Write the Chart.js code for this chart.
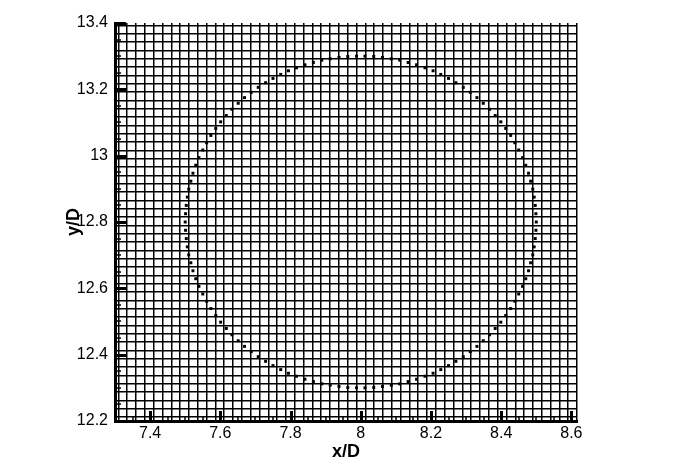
<!DOCTYPE html>
<html>
<head>
<meta charset="utf-8">
<script src="https://cdn.jsdelivr.net/npm/chart.js@4.4.1/dist/chart.umd.min.js"></script>
<style>
  html, body { margin: 0; padding: 0; background: #fff; }
</style>
</head>
<body>
<canvas id="meshChart" width="697" height="471"></canvas>
<script>
// marker points, going round anticlockwise from the right
const xD = [
  8.500, 8.499, 8.497, 8.494, 8.490, 8.484, 8.478, 8.470, 8.461, 8.450, 8.439, 8.427, 8.413, 8.399, 8.383, 8.367,
  8.349, 8.331, 8.312, 8.292, 8.271, 8.250, 8.228, 8.206, 8.183, 8.159, 8.135, 8.111, 8.087, 8.062, 8.037, 8.012,
  7.988, 7.963, 7.938, 7.913, 7.889, 7.865, 7.841, 7.817, 7.794, 7.772, 7.750, 7.729, 7.708, 7.688, 7.669, 7.651,
  7.633, 7.617, 7.601, 7.587, 7.573, 7.561, 7.550, 7.539, 7.530, 7.522, 7.516, 7.510, 7.506, 7.503, 7.501, 7.500,
  7.501, 7.503, 7.506, 7.510, 7.516, 7.522, 7.530, 7.539, 7.550, 7.561, 7.573, 7.587, 7.601, 7.617, 7.633, 7.651,
  7.669, 7.688, 7.708, 7.729, 7.750, 7.772, 7.794, 7.817, 7.841, 7.865, 7.889, 7.913, 7.938, 7.963, 7.988,
  8.012, 8.037, 8.062, 8.087, 8.111, 8.135, 8.159, 8.183, 8.206, 8.228, 8.250, 8.271, 8.292, 8.312, 8.331, 8.349,
  8.367, 8.383, 8.399, 8.413, 8.427, 8.439, 8.450, 8.461, 8.470, 8.478, 8.484, 8.490, 8.494, 8.497, 8.499
];
const yD = [
  12.800, 12.825, 12.850, 12.875, 12.899, 12.923, 12.947, 12.971, 12.994, 13.017, 13.039, 13.061, 13.082, 13.102, 13.121, 13.140,
  13.158, 13.175, 13.191, 13.206, 13.220, 13.233, 13.245, 13.256, 13.265, 13.274, 13.281, 13.288, 13.292, 13.296, 13.299, 13.300,
  13.300, 13.299, 13.296, 13.292, 13.288, 13.281, 13.274, 13.265, 13.256, 13.245, 13.233, 13.220, 13.206, 13.191, 13.175, 13.158,
  13.140, 13.121, 13.102, 13.082, 13.061, 13.039, 13.017, 12.994, 12.971, 12.947, 12.923, 12.899, 12.875, 12.850, 12.825, 12.800,
  12.775, 12.750, 12.725, 12.701, 12.677, 12.653, 12.629, 12.606, 12.583, 12.561, 12.539, 12.518, 12.498, 12.479, 12.460, 12.442,
  12.425, 12.409, 12.394, 12.380, 12.367, 12.355, 12.344, 12.335, 12.326, 12.319, 12.312, 12.308, 12.304, 12.301, 12.300,
  12.300, 12.301, 12.304, 12.308, 12.312, 12.319, 12.326, 12.335, 12.344, 12.355, 12.367, 12.380, 12.394, 12.409, 12.425, 12.442,
  12.460, 12.479, 12.498, 12.518, 12.539, 12.561, 12.583, 12.606, 12.629, 12.653, 12.677, 12.701, 12.725, 12.750, 12.775
];

const xTicks = [7.4, 7.6, 7.8, 8, 8.2, 8.4, 8.6];
const xTickLabels = ['7.4', '7.6', '7.8', '8', '8.2', '8.4', '8.6'];
const yTicks = [12.2, 12.4, 12.6, 12.8, 13, 13.2, 13.4];
const yTickLabels = ['12.2', '12.4', '12.6', '12.8', '13', '13.2', '13.4'];

const xMin = 7.3, xMax = 8.616;
const yMin = 12.2, yMax = 13.4;
const cell = 0.025125; // mesh spacing seen in the background grid

const font = { family: "'Liberation Sans', Arial, sans-serif", size: 16 };
const titleFont = { family: "'Liberation Sans', Arial, sans-serif", size: 18, weight: 'bold' };

// mesh lines: x lines counted back from the right edge, y lines up from the first row
function meshLines(start, step, stop) {
  const out = [];
  if (step > 0) {
    for (let v = start; v <= stop + 1e-9; v += step) out.push({ value: v });
  } else {
    for (let v = start; v >= stop - 1e-9; v += step) out.push({ value: v });
  }
  return out;
}

// inward major / minor tick marks on the two axes
const tickMarks = {
  id: 'tickMarks',
  afterDatasetsDraw(chart) {
    const { ctx, chartArea, scales } = chart;
    ctx.save();
    ctx.strokeStyle = '#000';
    for (let k = 147; k <= 172; k++) {
      const major = k % 4 === 0;
      const px = Math.round(scales.x.getPixelForValue(k * 0.05)) + (major ? 0.5 : 0);
      ctx.lineWidth = major ? 3 : 1.5;
      ctx.beginPath();
      ctx.moveTo(px, chartArea.bottom);
      ctx.lineTo(px, chartArea.bottom - (major ? 10 : 5));
      ctx.stroke();
    }
    for (let k = 245; k <= 268; k++) {
      const major = (k - 244) % 4 === 0;
      const py = Math.round(scales.y.getPixelForValue(k * 0.05)) + (major ? 0.5 : 0);
      ctx.lineWidth = major ? 3 : 1.5;
      ctx.beginPath();
      ctx.moveTo(chartArea.left, py);
      ctx.lineTo(chartArea.left + (major ? 11 : 6), py);
      ctx.stroke();
    }
    ctx.restore();
  }
};

const meshChart = new Chart(document.getElementById('meshChart').getContext('2d'), {
  type: 'scatter',
  data: {
    datasets: [{
      data: xD.map((x, i) => ({ x: x, y: yD[i] })),
      pointStyle: 'rect',
      pointRadius: 2.1,
      pointBackgroundColor: '#000',
      pointBorderWidth: 0,
      showLine: false
    }]
  },
  options: {
    responsive: false,
    animation: false,
    devicePixelRatio: 1,
    layout: { autoPadding: false, padding: { top: 23, right: 120, bottom: 0, left: 0 } },
    plugins: { legend: { display: false }, tooltip: { enabled: false } },
    scales: {
      x: {
        type: 'linear', position: 'bottom', min: xMin, max: xMax,
        afterBuildTicks: (scale) => { scale.ticks = xTicks.map(v => ({ value: v })); },
        afterFit: (scale) => { scale.height = 50; },
        grid: { display: false, drawTicks: false },
        border: { display: true, color: '#000', width: 3 },
        ticks: { font: font, color: '#000', padding: 3, autoSkip: false, maxRotation: 0,
          callback: (v, i) => xTickLabels[i] },
        title: { display: true, text: 'x/D', font: titleFont, color: '#000', padding: { bottom: 8 } }
      },
      y: {
        type: 'linear', position: 'left', min: yMin, max: yMax,
        afterBuildTicks: (scale) => { scale.ticks = yTicks.map(v => ({ value: v })); },
        afterFit: (scale) => { scale.width = 115; },
        grid: { display: false, drawTicks: false },
        border: { display: true, color: '#000', width: 3 },
        ticks: { font: font, color: '#000', padding: 7, autoSkip: false,
          callback: (v, i) => yTickLabels[i] },
        title: { display: true, text: 'y/D', font: titleFont, color: '#000', padding: { top: 63 } }
      },
      xg: {
        type: 'linear', position: 'top', min: xMin, max: xMax,
        afterBuildTicks: (scale) => { scale.ticks = meshLines(xMax, -cell, xMin + 0.005); },
        afterFit: (scale) => { scale.height = 0; },
        grid: { color: '#000', lineWidth: 1.5, drawTicks: false },
        border: { display: false },
        ticks: { display: false }
      },
      yg: {
        type: 'linear', position: 'right', min: yMin, max: yMax,
        afterBuildTicks: (scale) => { scale.ticks = meshLines(12.212, cell, yMax); },
        afterFit: (scale) => { scale.width = 0; },
        grid: { color: '#000', lineWidth: 1.5, drawTicks: false },
        border: { display: false },
        ticks: { display: false }
      }
    }
  },
  plugins: [tickMarks]
});
</script>
</body>
</html>
